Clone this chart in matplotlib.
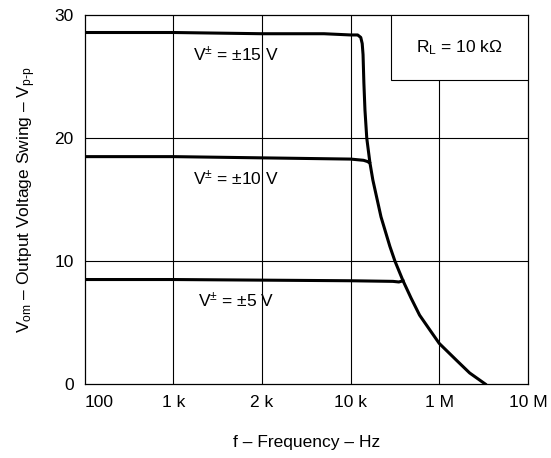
import matplotlib.pyplot as plt
from matplotlib.patches import Rectangle

# SUPPLY CURVES (frequency in Hz, output swing in Vp-p)
freq_15 = [1e2, 1e3, 1e4, 5e4, 1.0e5, 1.2e5, 1.30e5, 1.35e5, 1.38e5, 1.41e5, 1.45e5,
           1.52e5, 1.65e5, 1.78e5, 2.2e5, 2.77e5, 3.16e5, 3.9e5, 4.8e5, 6.0e5, 8.0e5,
           1.0e6, 1.58e6, 2.2e6, 3.3e6]
vout_15 = [28.6, 28.6, 28.5, 28.5, 28.4, 28.4, 28.2, 27.7, 26.8, 24.5, 22.3,
           20.0, 18.0, 16.6, 13.6, 11.2, 10.0, 8.4, 7.0, 5.6, 4.3,
           3.3, 1.9, 0.9, 0.0]

freq_10 = [1e2, 1e3, 1e4, 1e5, 1.4e5, 1.55e5, 1.63e5]
vout_10 = [18.5, 18.5, 18.4, 18.3, 18.2, 18.1, 18.0]

freq_5 = [1e2, 1e3, 1e4, 1e5, 3.0e5, 3.5e5, 3.9e5]
vout_5 = [8.5, 8.5, 8.45, 8.4, 8.35, 8.3, 8.4]

x_ticks = [1e2, 1e3, 1e4, 1e5, 1e6, 1e7]
x_labels = ["100", "1 k", "2 k", "10 k", "1 M", "10 M"]
y_ticks = [0, 10, 20, 30]

curve_labels = [r"$\mathregular{V^{\pm}}$ = ±15 V",
                r"$\mathregular{V^{\pm}}$ = ±10 V",
                r"$\mathregular{V^{\pm}}$ = ±5 V"]
label_pos = [(1660, 26.8), (1660, 16.7), (1880, 6.8)]

plt.rcParams["font.family"] = ["Liberation Sans", "DejaVu Sans"]
plt.rcParams["mathtext.fontset"] = "custom"
plt.rcParams["mathtext.rm"] = "Liberation Sans"
plt.rcParams["mathtext.it"] = "Liberation Sans"

fig = plt.figure(figsize=(5.51, 4.58), dpi=100)
ax = fig.add_axes([0.154, 0.1616, 0.804, 0.805])

ax.set_xscale("log")
ax.set_xlim(1e2, 1e7)
ax.set_ylim(0, 30)
ax.minorticks_off()

# grid: decades + every 10 V
for xv in x_ticks[1:-1]:
    ax.axvline(xv, color="black", lw=0.8, zorder=1)
for yv in y_ticks[1:-1]:
    ax.axhline(yv, color="black", lw=0.8, zorder=1)

ax.plot(freq_15, vout_15, color="black", lw=2.2, zorder=3)
ax.plot(freq_10, vout_10, color="black", lw=2.2, zorder=3)
ax.plot(freq_5, vout_5, color="black", lw=2.2, zorder=3)

for txt, (fx, fy) in zip(curve_labels, label_pos):
    ax.text(fx, fy, txt, fontsize=12.5, ha="left", va="center", zorder=4)

# load resistor box in top right corner
box = Rectangle((0.69, 0.824), 0.31, 0.176, transform=ax.transAxes,
                facecolor="white", edgecolor="black", lw=0.8, zorder=5)
ax.add_patch(box)
ax.text(0.845, 0.912, r"R$_\mathregular{L}$ = 10 kΩ", transform=ax.transAxes,
        fontsize=12.5, ha="center", va="center", zorder=6)

ax.set_xticks(x_ticks)
ax.set_xticklabels(x_labels, fontsize=12.5)
ax.get_xticklabels()[0].set_horizontalalignment("left")
ax.set_yticks(y_ticks)
ax.set_yticklabels([str(v) for v in y_ticks], fontsize=12.5)
ax.tick_params(length=0, pad=8)

for sp in ax.spines.values():
    sp.set_linewidth(0.9)

ax.set_xlabel("f – Frequency – Hz", fontsize=12.5, labelpad=18)
ax.set_ylabel(r"V$_\mathregular{om}$ – Output Voltage Swing – V$_\mathregular{p‐p}$",
              fontsize=12.5, labelpad=12)

fig.savefig("out.png", dpi=100, facecolor="white")
